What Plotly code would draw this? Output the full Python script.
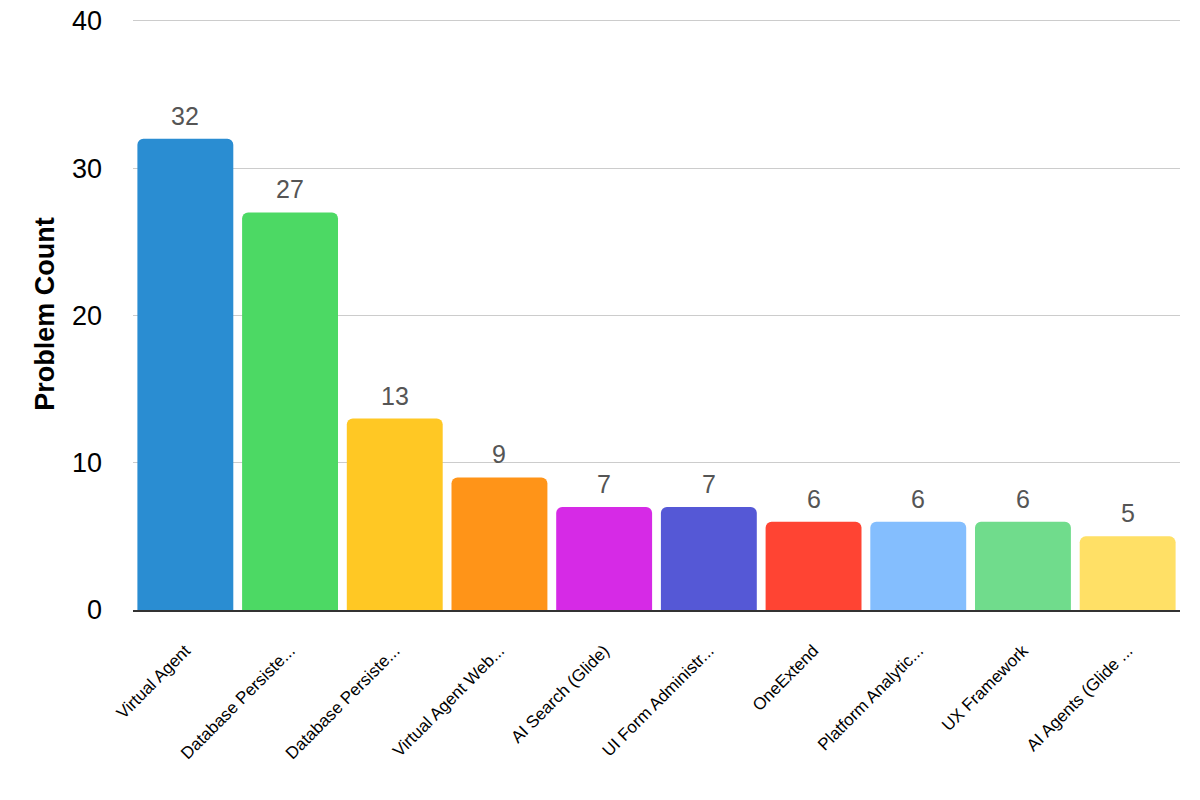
import plotly.graph_objects as go

categories = ["Virtual Agent", "Database Persiste...", "Database Persiste...", "Virtual Agent Web...",
              "AI Search (Glide)", "UI Form Administr...", "OneExtend", "Platform Analytic...",
              "UX Framework", "AI Agents (Glide ..."]
values = [32, 27, 13, 9, 7, 7, 6, 6, 6, 5]
colors = ["#2a8dd2", "#4cd964", "#ffc824", "#ff9418", "#d62ae6", "#5558d6",
          "#ff4433", "#84befe", "#70dc8c", "#ffe066"]
y_ticks = [0, 10, 20, 30, 40]

x_idx = list(range(len(categories)))

fig = go.Figure(go.Bar(
    x=x_idx, y=values,
    marker=dict(color=colors, line=dict(width=0), cornerradius=6),
    cliponaxis=False,
))

for i, v in zip(x_idx, values):
    fig.add_annotation(
        x=i, y=v, text=str(v), showarrow=False, yanchor="bottom", yshift=7,
        font=dict(size=25, color="#555555", family="Liberation Sans, Arial, sans-serif"),
    )

fig.update_layout(
    width=1200, height=800,
    margin=dict(l=133, r=20, t=18, b=190, autoexpand=False),
    paper_bgcolor="white", plot_bgcolor="white",
    font=dict(family="Liberation Sans, Arial, sans-serif", color="black"),
    bargap=0.084,
    showlegend=False,
    xaxis=dict(
        tickmode="array", tickvals=x_idx, ticktext=categories,
        tickangle=-45, tickfont=dict(size=17, color="black"),
        showgrid=False, showline=True, linecolor="#333333", linewidth=2,
        ticks="", range=[-0.5, len(categories) - 0.5], ticklabelstandoff=22,
        automargin=False,
    ),
    yaxis=dict(
        range=[0, 40.2], tickvals=y_ticks, tickfont=dict(size=27, color="black"),
        showgrid=True, gridcolor="#cccccc", gridwidth=1, zeroline=False,
        showline=False, ticks="", ticklabelstandoff=30, automargin=False,
        title=dict(text="<b>Problem Count</b>", font=dict(size=27, color="black"), standoff=9),
    ),
)

fig.write_html("out.html")
